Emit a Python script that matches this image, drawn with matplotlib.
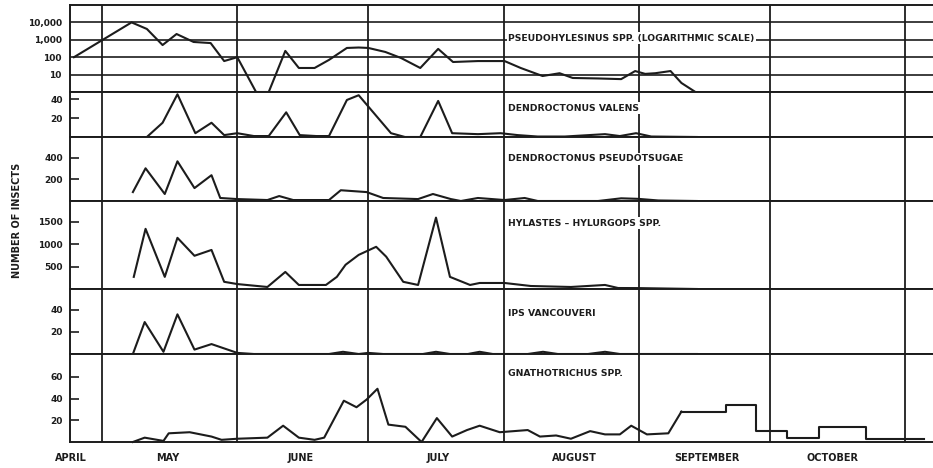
import numpy as np
import matplotlib.pyplot as plt
from matplotlib.ticker import NullLocator

# x values are days counted from 1 May
month_starts = [0, 31, 61, 92, 123, 153, 184]
month_names = ['APRIL', 'MAY', 'JUNE', 'JULY', 'AUGUST', 'SEPTEMBER', 'OCTOBER']
month_label_days = [-7.2, 15.1, 45.4, 77.0, 108.3, 138.6, 167.4]

# Pseudohylesinus spp. (log scale)
pseud_days = [-6.4, 6.8, 10.3, 13.9, 17.1, 21.0, 24.9, 28.0, 31.0, 35.3, 38.2, 42.0, 45.1,
              48.7, 52.0, 56.1, 58.8, 61.0, 64.9, 68.5, 72.9, 77.0, 80.4, 86.1, 92.2, 95.9,
              100.9, 104.8, 107.8, 113.6, 118.9, 122.1, 124.4, 126.7, 130.2, 132.7, 135.9]
pseud_vals = [100, 10000, 4200, 500, 2150, 750, 650, 60, 100, 1, 1, 230, 24,
              24, 70, 340, 360, 340, 200, 90, 24, 300, 53, 60, 60, 24,
              8.3, 12, 6.4, 6, 5.5, 16, 11, 12, 16, 3.3, 1]

# Dendroctonus valens
valens_days = [10.3, 13.9, 17.3, 21.4, 25.1, 28.0, 31.0, 34.8, 38.2, 42.2, 45.3, 49.1, 52.0,
               56.1, 58.8, 66.2, 69.4, 72.9, 77.0, 80.2, 86.1, 91.3, 95.2, 99.8, 106.0,
               115.2, 118.6, 122.3, 125.8, 136.2]
valens_vals = [0, 15, 45, 4, 15, 2, 4, 1, 1, 26, 2, 1, 1,
               39, 44, 4, 0, 0, 38, 4, 3, 4, 2, 0.5, 0.5,
               3, 1, 4, 0.5, 0]

# Dendroctonus pseudotsugae
dpseud_days = [7.1, 10.0, 14.4, 17.3, 21.2, 25.1, 27.1, 31.0, 37.9, 40.6, 43.8, 52.0, 54.7,
               60.6, 64.4, 72.4, 75.8, 79.9, 82.2, 86.1, 92.2, 96.8, 99.8, 113.6, 118.9,
               122.8, 127.4, 136.2]
dpseud_vals = [83, 304, 65, 369, 120, 240, 28, 18, 9, 46, 9, 9, 100,
               83, 28, 18, 65, 18, 0, 28, 9, 28, 0, 0, 25,
               20, 5, 0]

# Hylastes - Hylurgops spp.
hyl_days = [7.3, 10.0, 14.4, 17.3, 21.2, 25.1, 28.0, 31.0, 37.9, 42.0, 45.1, 51.3, 53.8,
            55.8, 58.8, 62.8, 65.1, 69.0, 72.4, 76.5, 79.7, 84.3, 86.5, 92.2, 98.2,
            107.4, 115.2, 118.2, 122.8, 136.2]
hyl_vals = [270, 1340, 270, 1140, 740, 870, 160, 110, 45, 380, 90, 90, 270,
            540, 760, 940, 720, 160, 90, 1590, 270, 90, 134, 134, 67,
            45, 90, 22, 20, 0]

# Ips vancouveri
ips_days = [7.1, 9.8, 14.1, 17.3, 21.2, 25.1, 31.0, 34.8, 52.0, 55.2, 58.8, 61.0, 64.4,
            73.5, 76.5, 79.7, 83.8, 86.5, 89.5, 97.5, 101.0, 104.4, 111.3, 115.2, 118.6, 136.2]
ips_vals = [0, 29, 2, 36, 4, 9, 1, 0, 0, 2, 0, 1, 0,
            0, 2, 0, 0, 2, 0, 0, 2, 0, 0, 2, 0, 0]

# Gnathotrichus spp. (weekly counts, then period totals)
gna_days = [7.1, 9.8, 14.1, 15.3, 20.1, 25.1, 27.4, 31.0, 37.9, 41.5, 45.1, 48.7, 50.9,
            55.4, 58.3, 60.6, 63.1, 65.6, 69.5, 73.2, 76.7, 80.2, 83.6, 86.5, 91.1,
            97.5, 100.3, 104.0, 107.4, 111.8, 115.2, 118.6, 121.2, 124.8, 129.7, 132.7]
gna_vals = [0, 4, 1, 8, 9, 5, 2, 3, 4, 15, 4, 2, 4,
            38, 32, 39, 49, 16, 14, 0, 22, 5, 11, 15, 9,
            11, 5, 6, 3, 10, 7, 7, 15, 7, 8, 28]
gna_step_days = [132.7, 142.9, 149.8, 156.8, 164.1, 175.0, 188.3]
gna_step_vals = [28, 34, 10, 4, 14, 3, 3]

labels = ['PSEUDOHYLESINUS SPP. (LOGARITHMIC SCALE)', 'DENDROCTONUS VALENS',
          'DENDROCTONUS PSEUDOTSUGAE', 'HYLASTES \u2013 HYLURGOPS SPP.',
          'IPS VANCOUVERI', 'GNATHOTRICHUS SPP.']

W, H = 933, 468
edges = [5, 92, 137, 201, 289, 354, 442]
ylims = [(1, 1e5), (0, 47.4), (0, 595), (0, 1960), (0, 59), (0, 81)]
yticks = [[10, 100, 1000, 10000], [20, 40], [200, 400], [500, 1000, 1500], [20, 40], [20, 40, 60]]
yticklabels = [['10', '100', '1,000', '10,000'], ['20', '40'], ['200', '400'],
               ['500', '1000', '1500'], ['20', '40'], ['20', '40', '60']]
label_frac = [0.62, 0.64, 0.66, 0.75, 0.63, 0.78]
xlim = (-7.3, 190.3)

ink = '#1c1c1c'
fw = 'bold'

fig = plt.figure(figsize=(W / 100, H / 100), dpi=100)
axes = []
for i in range(6):
    top, bot = edges[i], edges[i + 1]
    ax = fig.add_axes([70 / W, 1 - bot / H, (W - 70) / W, (bot - top) / H])
    axes.append(ax)

series = [(pseud_days, pseud_vals), (valens_days, valens_vals), (dpseud_days, dpseud_vals),
          (hyl_days, hyl_vals), (ips_days, ips_vals), (gna_days, gna_vals)]

for i, ax in enumerate(axes):
    if i == 0:
        ax.set_yscale('log')
        for g in yticks[0]:
            ax.axhline(g, color=ink, lw=1.2, zorder=1)
    ax.set_ylim(*ylims[i])
    ax.set_yticks(yticks[i])
    ax.set_yticklabels(yticklabels[i], fontsize=6.5, fontweight=fw, color=ink)
    ax.yaxis.set_minor_locator(NullLocator())
    ax.tick_params(axis='y', direction='in', length=0 if i == 0 else 6.5, width=1.2,
                   pad=6 if i == 0 else 5, colors=ink)
    ax.tick_params(axis='x', length=0)
    for m in month_starts:
        ax.axvline(m, color=ink, lw=1.3, zorder=1)
    ax.spines['right'].set_visible(False)
    for s in ['left', 'top', 'bottom']:
        ax.spines[s].set_linewidth(1.4)
        ax.spines[s].set_color(ink)
    d, v = series[i]
    ax.plot(d, v, color=ink, lw=1.5, zorder=3, clip_on=False)
    ax.text(93, label_frac[i], labels[i], transform=ax.get_xaxis_transform(),
            fontsize=6.7, fontweight=fw, color=ink, va='center', ha='left', zorder=5,
            bbox=dict(facecolor='white', edgecolor='none', pad=1.0))
    if i < 5:
        ax.set_xticks([])

axes[5].plot(gna_step_days, gna_step_vals, color=ink, lw=1.5, drawstyle='steps-post', zorder=3)
axes[5].set_xticks(month_label_days)
axes[5].set_xticklabels(month_names, fontsize=7, fontweight=fw, color=ink)
axes[5].tick_params(axis='x', pad=8)

for ax in axes:
    ax.set_xlim(*xlim)

fig.text(17 / W, 1 - 220 / H, 'NUMBER OF INSECTS', rotation=90, fontsize=7,
         fontweight=fw, color=ink, ha='center', va='center')

fig.savefig('out.png', dpi=100, facecolor='white')
